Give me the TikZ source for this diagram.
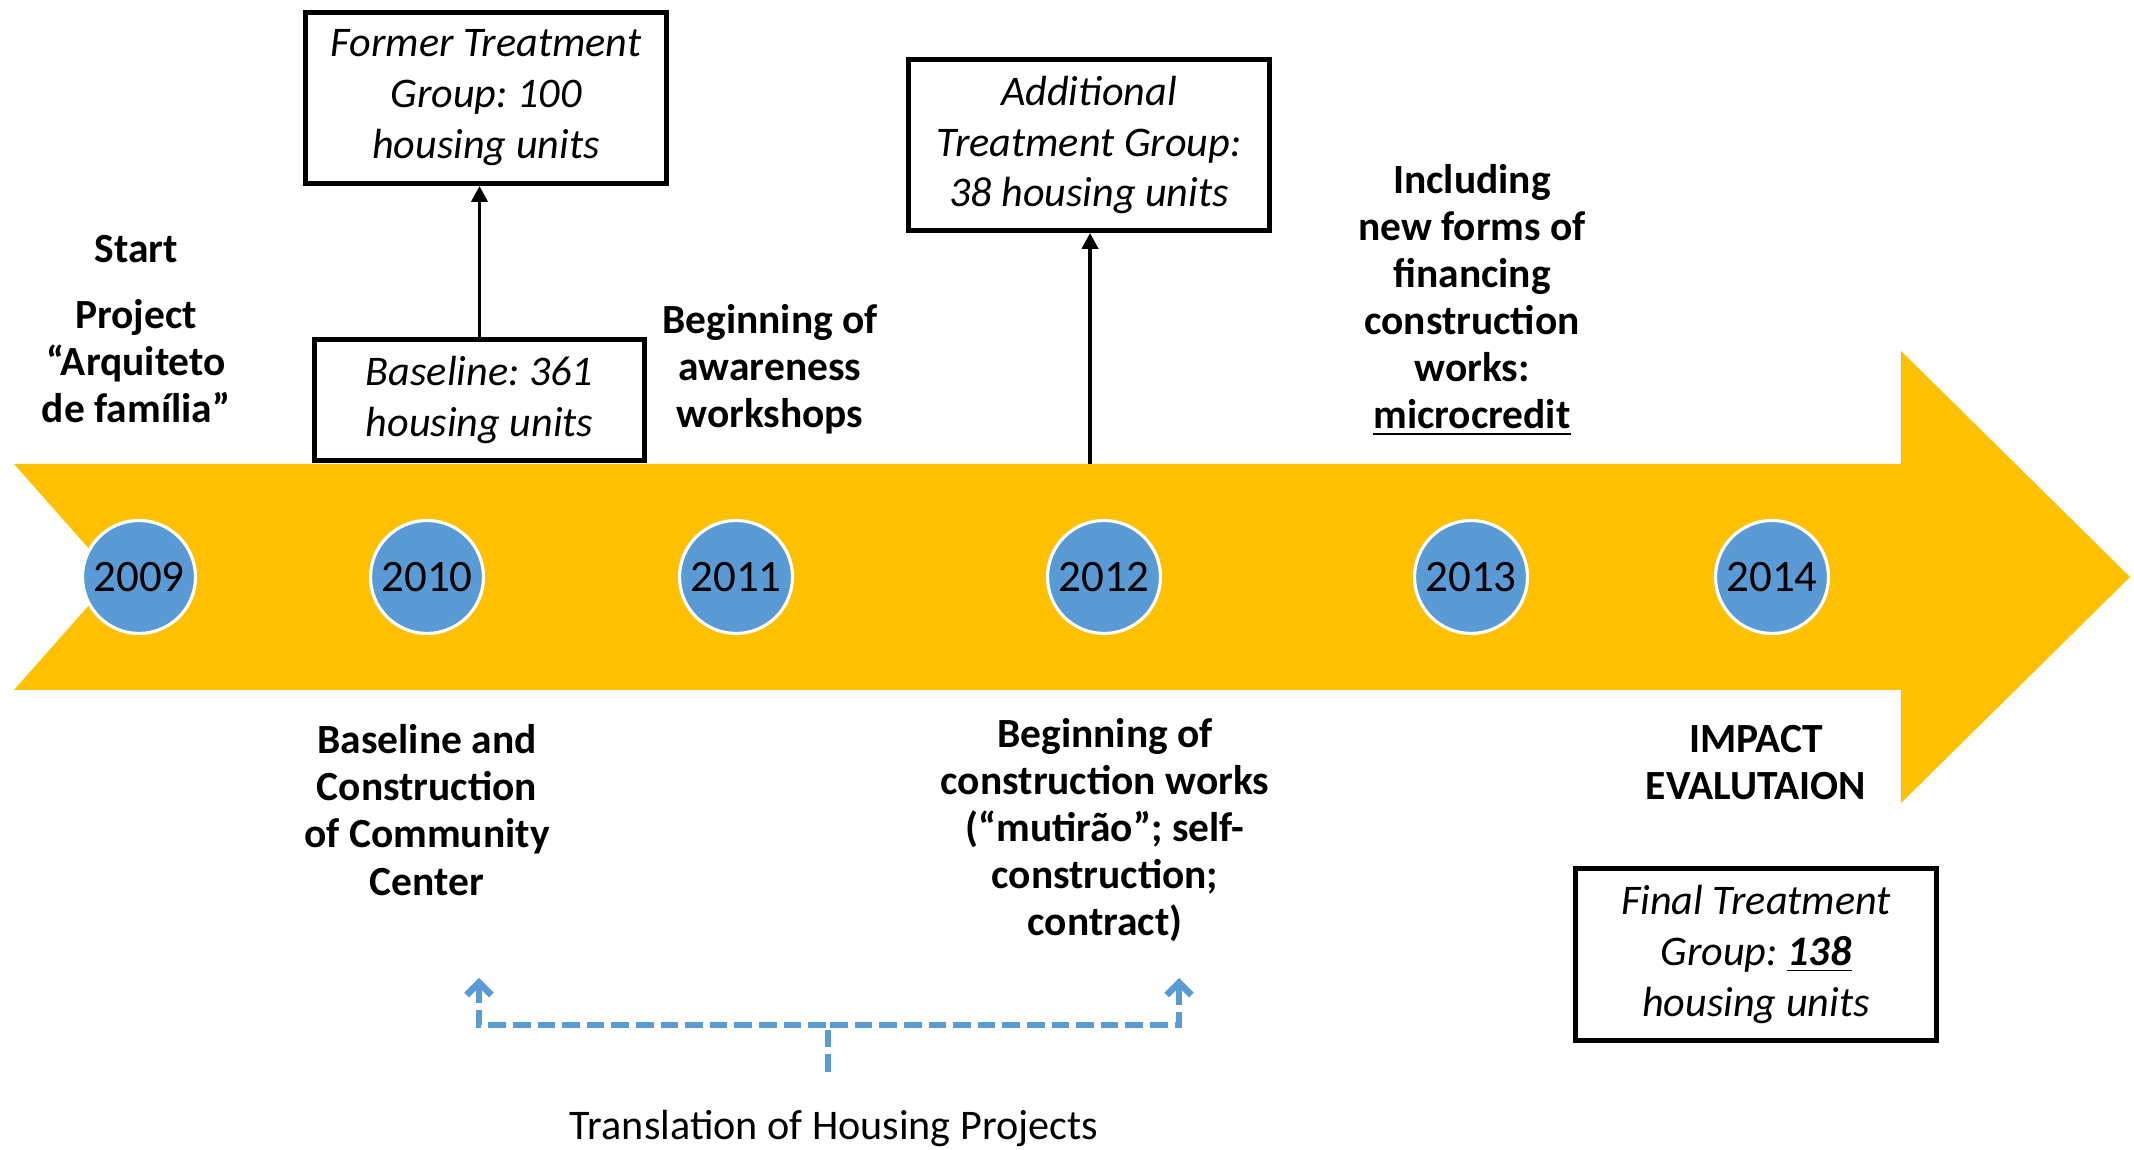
\documentclass[tikz,border=0pt]{standalone}
\usepackage{fontspec}
\setmainfont{Carlito}
\frenchspacing
\usetikzlibrary{arrows.meta, positioning, calc}
\definecolor{gold}{HTML}{FFC000}
\definecolor{yearblue}{HTML}{5B9BD5}

\begin{document}
\begin{tikzpicture}[
    event/.style={
        align=center, inner sep=0pt,
        font=\fontsize{11.8}{13.4}\selectfont\bfseries
    },
    year/.style={
        circle, fill=yearblue, draw=white, line width=0.9pt,
        minimum size=1.13cm, inner sep=0pt,
        font=\fontsize{12.8}{14}\selectfont
    },
    group/.style={
        rectangle, draw=black, line width=1.4pt,
        minimum width=3.61cm, minimum height=1.71cm, align=center,
        inner sep=2pt, font=\fontsize{12}{14.5}\selectfont\itshape
    },
    line/.style={draw=black, line width=1.1pt, -{Triangle[length=4.5pt, width=4.5pt]}},
    transl/.style={draw=yearblue, line width=1.9pt, dash pattern=on 5pt off 2pt,
        -{Straight Barb[length=3.5pt, width=7pt]}}
]
\useasboundingbox (0,0) rectangle (21.34,11.5);

% ---------------------------------------------------------------------
% 1. TIMELINE ARROW
% ---------------------------------------------------------------------
\fill[gold] (0.14,6.86) -- (19.01,6.86) -- (19.01,7.99) -- (21.30,5.73)
    -- (19.01,3.47) -- (19.01,4.60) -- (0.14,4.60) -- (1.14,5.73) -- cycle;

% Years
\node[year] (Y2009) at (1.39,5.73) {2009};
\node[year] (Y2010) at (4.27,5.73) {2010};
\node[year] (Y2011) at (7.36,5.73) {2011};
\node[year] (Y2012) at (11.04,5.73) {2012};
\node[year] (Y2013) at (14.71,5.73) {2013};
\node[year] (Y2014) at (17.72,5.73) {2014};

% ---------------------------------------------------------------------
% 2. ABOVE THE ARROW
% ---------------------------------------------------------------------
\node[event] (Start) at (1.36,9.01) {Start};
\node[event] (Project) at (1.36,7.89) {Project\\“Arquiteto\\de família”};
\node[event] (Awareness) at (7.70,7.81) {Beginning of\\awareness\\workshops};
\node[event] (Financing) at (14.72,8.50) {Including\\new forms of\\financing\\construction\\works:\\\underline{microcredit}};

% Treatment groups
\node[group, minimum width=3.30cm, minimum height=1.21cm] (Baseline) at (4.795,7.50) {Baseline: 361\\housing units};
\node[group] (Former) at (4.86,10.52) {Former Treatment\\Group: 100\\housing units};
\node[group] (Additional) at (10.89,10.05) {Additional\\Treatment Group:\\38 housing units};

\coordinate (Mark2012) at (10.90,6.86);
\draw[line] (Baseline.north) -- (Baseline.north |- Former.south);
\draw[line] (Mark2012) -- (Mark2012 |- Additional.south);

% ---------------------------------------------------------------------
% 3. BELOW THE ARROW
% ---------------------------------------------------------------------
\node[event] (Community) at (4.27,3.40) {Baseline and\\Construction\\of Community\\Center};
\node[event] (Works) at (11.05,3.20) {Beginning of\\construction works\\(“mutirão”; self-\\construction;\\contract)};
\node[event] (Impact) at (17.56,3.87) {IMPACT\\EVALUTAION};
\node[group, minimum height=1.72cm] (Final) at (17.56,1.955) {Final Treatment\\Group: \textbf{\underline{138}}\\housing units};

% Translation of housing projects
\node[font=\fontsize{12}{14}\selectfont] (Translation) at (8.34,0.22) {Translation of Housing Projects};
\coordinate (BraceMid) at (8.28,0.78);
\coordinate (BraceL) at (4.79,1.72);
\coordinate (BraceR) at (11.79,1.72);
\draw[transl] (BraceMid) -- ++(0,0.47) -| (BraceL);
\draw[transl] (BraceMid) -- ++(0,0.47) -| (BraceR);

\end{tikzpicture}
\end{document}
